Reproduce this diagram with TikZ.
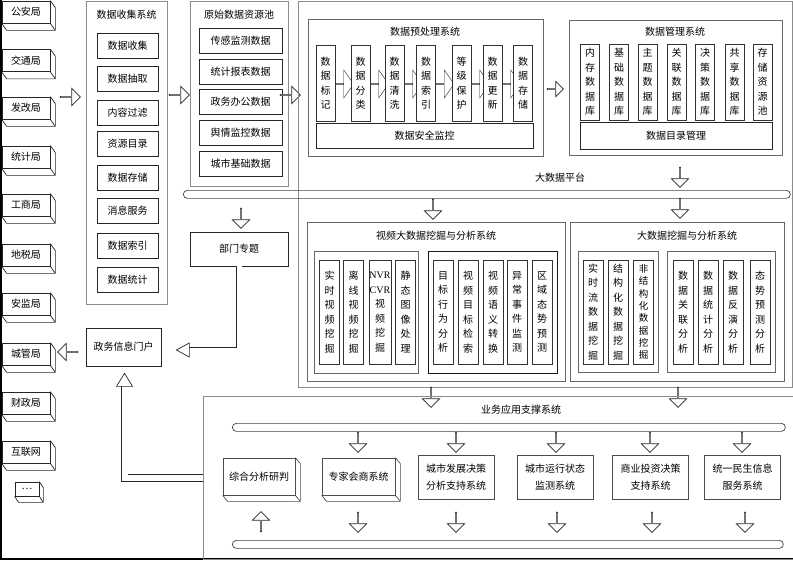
\documentclass[tikz,border=0pt]{standalone}
\usepackage{fontspec}
\setmainfont{Noto Sans CJK SC}
\newfontfamily\latinfont{Liberation Serif}
\usetikzlibrary{shapes.arrows, positioning, calc, backgrounds}

\begin{document}
\begin{tikzpicture}[
        x=1pt, y=-1pt,
        line width=0.7pt,
        every node/.style={font=\fontsize{10}{14.5}\selectfont},
        panel/.style={rectangle, draw=black!45, anchor=north west, inner sep=0pt},
        inner/.style={rectangle, draw=black!60, anchor=north west, inner sep=0pt},
        item/.style={rectangle, draw=black!85, fill=white, minimum height=25pt, inner sep=0pt},
        col/.style={rectangle, draw=black!80, fill=white, minimum width=19pt, inner sep=0pt, align=center},
        bureau/.style={rectangle, draw=black!85, fill=white, minimum width=48pt, minimum height=22pt, inner sep=0pt},
        appbox/.style={rectangle, draw=black!70, fill=white, minimum width=76pt, minimum height=44pt, inner sep=0pt, align=center, font=\fontsize{10}{17}\selectfont},
        bus/.style={rectangle, draw=black!75, rounded corners=4pt, anchor=north west, minimum height=8pt, inner sep=0pt},
        barrow/.style={single arrow, draw=black!85, fill=white, minimum height=20pt, minimum width=17pt, single arrow head extend=4.5pt, inner sep=0pt},
        darrow/.style={barrow, shape border rotate=270},
        uarrow/.style={barrow, shape border rotate=90},
        larrow/.style={barrow, shape border rotate=180},
        parrow/.style={single arrow, draw=black!85, fill=white, minimum height=18pt, minimum width=28pt, single arrow head extend=8.5pt, single arrow tip angle=110, inner sep=0pt},
        pipe/.style={draw=black!85, double=white, line width=0.8pt}
    ]
        \useasboundingbox (0,0) rectangle (793,560);

        % Frame
        \draw[line width=1.2pt] (1,0) -- (1,559) -- (793,559);

        % Departments
        \foreach \n/\t/\yy in {gaj/公安局/12, jtj/交通局/60.5, fgj/发改局/108, tjj/统计局/157, gsj/工商局/205, dsj/地税局/255, ajj/安监局/304, cgj/城管局/354, czj/财政局/403, hlw/互联网/452}{
            \node[bureau] (\n) at (26,\yy) {\t};
            \draw[black!85] (\n.north east) -- ++(5,7) -- ($(\n.south east)+(5,7)$) -- ($(\n.south west)+(5,7)$) -- (\n.south west)
                (\n.south east) -- ++(5,7);
        }
        \node[bureau, minimum width=24pt, minimum height=14pt] (more) at (27,489) {…};
        \draw[black!85] (more.north east) -- ++(4,6) -- ($(more.south east)+(4,6)$) -- ($(more.south west)+(4,6)$) -- (more.south west)
            (more.south east) -- ++(4,6);

        \node[barrow] (a1) at (70,97) {};

        % Data collection
        \node[panel, minimum width=81pt, minimum height=303pt] (collect) at (86,1) {};
        \node (collecttitle) at (126.5,15) {数据收集系统};
        \foreach \n/\t/\yy in {c1/数据收集/45.5, c2/数据抽取/79, c3/内容过滤/112.5, c4/资源目录/144, c5/数据存储/177.5, c6/消息服务/210.5, c7/数据索引/245.5, c8/数据统计/280}
            \node[item, minimum width=61pt] (\n) at (127.5,\yy) {\t};

        \node[barrow] (a2) at (179,95) {};

        % Raw data pool
        \node[panel, minimum width=98pt, minimum height=185pt] (pool) at (190,1) {};
        \node (pooltitle) at (239,15) {原始数据资源池};
        \foreach \n/\t/\yy in {r1/传感监测数据/41, r2/统计报表数据/71.5, r3/政务办公数据/102, r4/舆情监控数据/133, r5/城市基础数据/164}
            \node[item, minimum width=83pt] (\n) at (240.5,\yy) {\t};

        \node[barrow] (a3) at (290,95) {};

        % Big data platform
        \node[panel, minimum width=494pt, minimum height=386pt] (platform) at (298,0.5) {};

        % Preprocessing
        \node[inner, minimum width=235pt, minimum height=137pt] (preproc) at (308,19) {};
        \node (preproctitle) at (425,32) {数据预处理系统};
        \foreach \n/\t/\xx in {p1/数\\据\\标\\记/325.5, p2/数\\据\\分\\类/360.5, p3/数\\据\\清\\洗/394.5, p4/数\\据\\索\\引/426, p5/等\\级\\保\\护/461.5, p6/数\\据\\更\\新/492.5, p7/数\\据\\存\\储/523}
            \node[col, minimum height=76pt] (\n) at (\xx,83) {\t};
        \begin{scope}[on background layer]
            \foreach \a in {p1, p2, p3, p4, p5, p6}
                \node[parrow, anchor=tail] at ($(\a.east)+(0,1)$) {};
        \end{scope}
        \node[item, minimum width=217pt] (secmon) at (424.5,135.5) {数据安全监控};

        \node[barrow, minimum height=16pt, minimum width=15pt, single arrow head extend=4pt] (a4) at (555,89) {};

        % Data management
        \node[inner, minimum width=213pt, minimum height=135pt] (manage) at (569,20) {};
        \node (managetitle) at (675,32) {数据管理系统};
        \foreach \n/\t/\xx in {m1/内\\存\\数\\据\\库/590, m2/基\\础\\数\\据\\库/619, m3/主\\题\\数\\据\\库/647.5, m4/关\\联\\数\\据\\库/676.5, m5/决\\策\\数\\据\\库/705, m6/共\\享\\数\\据\\库/734.5, m7/存\\储\\资\\源\\池/762.5}
            \node[col, minimum height=76pt] (\n) at (\xx,82) {\t};
        \node[item, minimum width=192pt, minimum height=27pt] (catalog) at (676,135.5) {数据目录管理};

        \node[darrow] (a5) at (680,177) {};

        % Platform bus
        \node[bus, minimum width=607pt] (platbus) at (183,190) {};
        \node (platlabel) at (560,178) {大数据平台};

        \node[darrow] (a6) at (241,218) {};
        \node[darrow] (a7) at (433,209) {};
        \node[darrow] (a8) at (680,208) {};

        % Department topics and portal
        \node[item, minimum width=98pt, minimum height=34pt] (dept) at (239,249) {部门专题};
        \node[item, minimum width=75pt, minimum height=38pt] (portal) at (123.5,347) {政务信息门户};
        \node[larrow] (a9) at (68,352) {};

        % Video mining
        \node[inner, minimum width=258pt, minimum height=159pt] (video) at (307,222) {};
        \node (videotitle) at (436,236) {视频大数据挖掘与分析系统};
        \node[inner, minimum width=104pt, minimum height=122pt] (vsub1) at (314,251) {};
        \node[inner, draw=black!90, minimum width=129pt, minimum height=122pt] (vsub2) at (428,251) {};
        \foreach \n/\t/\xx in {v1/实\\时\\视\\频\\挖\\掘/329.5, v2/离\\线\\视\\频\\挖\\掘/353.5, v4/静\\态\\图\\像\\处\\理/405.5, v5/目\\标\\行\\为\\分\\析/443, v6/视\\频\\目\\标\\检\\索/468, v7/视\\频\\语\\义\\转\\换/493, v8/异\\常\\事\\件\\监\\测/517, v9/区\\域\\态\\势\\预\\测/542}
            \node[col, minimum width=20pt, minimum height=104pt] (\n) at (\xx,312) {\t};
        \node[col, minimum width=22pt, minimum height=104pt] (v3) at (380,312) {{\latinfont NVR}\\{\latinfont CVR}\\视\\频\\挖\\掘};

        % Big data mining
        \node[inner, minimum width=214pt, minimum height=159pt] (mine) at (570,222) {};
        \node (minetitle) at (687,236) {大数据挖掘与分析系统};
        \node[inner, minimum width=80pt, minimum height=121pt] (msub1) at (578,251) {};
        \node[inner, minimum width=108pt, minimum height=121pt] (msub2) at (667,251) {};
        \foreach \n/\t/\xx in {d1/实\\时\\流\\数\\据\\挖\\掘/593, d2/结\\构\\化\\数\\据\\挖\\掘/618, d4/数\\据\\关\\联\\分\\析/683, d5/数\\据\\统\\计\\分\\析/708, d6/数\\据\\反\\演\\分\\析/733, d7/态\\势\\预\\测\\分\\析/760}
            \node[col, minimum width=20pt, minimum height=104pt] (\n) at (\xx,312) {\t};
        \node[col, minimum width=20pt, minimum height=104pt, font=\fontsize{9.5}{12.3}\selectfont] (d3) at (643.5,312) {非\\结\\构\\化\\数\\据\\挖\\掘};

        \node[darrow] (a10) at (431,397) {};
        \node[darrow] (a11) at (678,397) {};

        % Application support
        \node[panel, minimum width=590pt, minimum height=163pt] (appsys) at (203,396) {};
        \node (apptitle) at (521,410) {业务应用支撑系统};
        \node[bus, minimum width=553pt] (appbusup) at (232,423) {};
        \node[bus, minimum width=551pt] (appbusdown) at (232,540) {};

        \node[appbox, minimum width=72pt, minimum height=37pt] (zhyp) at (259,476.5) {综合分析研判};
        \node[appbox, minimum width=73pt, minimum height=37pt] (zjhs) at (358.5,476.5) {专家会商系统};
        \foreach \n in {zhyp, zjhs}
            \draw[black!70] (\n.north east) -- ++(5,6) -- ($(\n.south east)+(5,6)$) -- ($(\n.south west)+(5,6)$) -- (\n.south west)
                (\n.south east) -- ++(5,6);
        \node[appbox] (csfz) at (456,477) {城市发展决策\\分析支持系统};
        \node[appbox] (csyx) at (555,477) {城市运行状态\\监测系统};
        \node[appbox] (sytz) at (650.5,477) {商业投资决策\\支持系统};
        \node[appbox] (tyms) at (742.5,477) {统一民生信息\\服务系统};

        \foreach \xx in {358, 456, 556, 650, 742}
            \node[darrow] at (\xx,442) {};
        \foreach \xx in {358, 456, 557, 652, 745}
            \node[darrow] at (\xx,522) {};
        \node[uarrow] (a12) at (261,522) {};

        % Pipes to the portal
        \coordinate (tip1) at ($(portal.east)+(15,3)$);
        \draw[pipe, double distance=5pt] (dept.south) |- ($(tip1)+(13,0)$);
        \draw[black!85, line width=0.7pt, fill=white] (tip1) -- ++(13,-7) -- ++(0,14) -- cycle;

        \coordinate (tip2) at ($(portal.south)+(1,7)$);
        \draw[pipe, double distance=6pt] (appsys.west) -| ($(tip2)+(0,13)$);
        \draw[black!85, line width=0.7pt, fill=white] (tip2) -- ++(-8,13) -- ++(16,0) -- cycle;

    \end{tikzpicture}
\end{document}
